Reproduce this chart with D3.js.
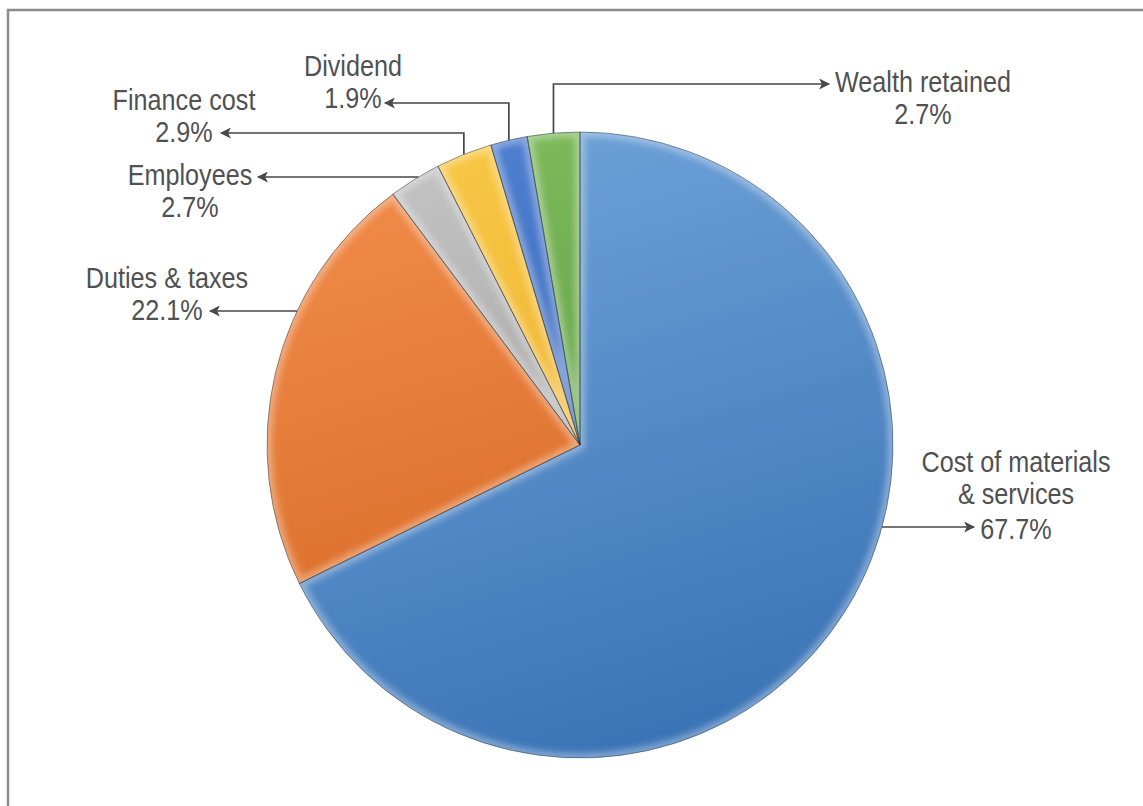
<!DOCTYPE html>
<html><head><meta charset="utf-8">
<script src="https://cdn.jsdelivr.net/npm/d3@7"></script>
<style>html,body{margin:0;padding:0;background:#fff;overflow:hidden}</style>
</head><body>
<svg id="c" width="1143" height="806"></svg>
<script>
// ---- data ----
const categories = ["Cost of materials & services","Duties & taxes","Employees","Finance cost","Dividend","Wealth retained"];
const values = [67.7, 22.1, 2.7, 2.9, 1.9, 2.7];
const labelLines = [["Cost of materials","& services","67.7%"],["Duties & taxes","22.1%"],["Employees","2.7%"],["Finance cost","2.9%"],["Dividend","1.9%"],["Wealth retained","2.7%"]];
const colors = [["#6ea2d8","#3a73b5"],["#f28c4a","#d1621e"],["#c4c4c4","#909090"],["#f8c847","#e5a31b"],["#4f7fd0","#2d5aab"],["#7fbb5d","#4d8d32"]];

const W=1143,H=806, cx=580, cy=445, R=313;
const svg=d3.select("#c");
const defs=svg.append("defs");

// frame
svg.append("rect").attr("x",8).attr("y",10).attr("width",1300).attr("height",1000)
  .attr("fill","none").attr("stroke","#8c8c8c").attr("stroke-width",2.5);

const pie=d3.pie().sort(null).value(d=>d)(values);
const arc=d3.arc().innerRadius(0).outerRadius(R);

defs.append("filter").attr("id","blur").append("feGaussianBlur").attr("stdDeviation",3);
defs.append("marker").attr("id","ah").attr("viewBox","0 0 10 10").attr("refX",9).attr("refY",5)
  .attr("markerWidth",14).attr("markerHeight",11).attr("markerUnits","userSpaceOnUse").attr("orient","auto")
  .append("path").attr("d","M0,0 L10,5 L0,10 L2.5,5 Z").attr("fill","#4a4a4a");

colors.forEach((c,i)=>{
  const g=defs.append("linearGradient").attr("id","g"+i).attr("gradientUnits","userSpaceOnUse")
    .attr("x1",-R*0.35).attr("y1",-R).attr("x2",R*0.25).attr("y2",R);
  g.append("stop").attr("offset","0%").attr("stop-color",c[0]);
  g.append("stop").attr("offset","100%").attr("stop-color",c[1]);
  defs.append("clipPath").attr("id","cp"+i).append("path").attr("d",arc(pie[i]));
});

const pg=svg.append("g").attr("transform",`translate(${cx},${cy})`);
pie.forEach((p,i)=>{
  pg.append("path").attr("d",arc(p)).attr("fill",`url(#g${i})`);
});
// bevel highlight
pie.forEach((p,i)=>{
  pg.append("g").attr("clip-path",`url(#cp${i})`)
    .append("path").attr("d",arc(p))
    .attr("fill","none").attr("stroke","#fff").attr("stroke-opacity",0.35).attr("stroke-width",10).attr("filter","url(#blur)");
});
pie.forEach((p,i)=>{
  pg.append("path").attr("d",arc(p)).attr("fill","none").attr("stroke","rgba(30,40,55,0.45)").attr("stroke-width",1);
});

// ---- labels & leaders ----
const ink="#4f5153";
const font="'Liberation Sans',Arial,sans-serif";
function circY(x){return cy-Math.sqrt(R*R-(x-cx)*(x-cx));}
function circX(y,side){return cx+side*Math.sqrt(R*R-(y-cy)*(y-cy));}
function midX(i){const a=(pie[i].startAngle+pie[i].endAngle)/2;return cx+R*Math.sin(a);}

const labelPos=[[1016,472],[167,288],[190,185],[184,110],[353,76],[923,92]];
const lineH=32;
labelLines.forEach((ls,i)=>{
  const t=svg.append("text").attr("text-anchor","middle").attr("fill",ink)
    .attr("font-family",font).attr("font-size",30)
    .attr("transform",`translate(${labelPos[i][0]},${labelPos[i][1]}) scale(0.84,1)`);
  ls.forEach((s,k)=>t.append("tspan").attr("x",0).attr("y",k*lineH+(i===0&&k===2?3:0)).text(s));
});

const lineAttr=s=>s.attr("fill","none").attr("stroke","#464646").attr("stroke-width",1.7).attr("marker-end","url(#ah)");
// Cost of materials
{const y=527; lineAttr(svg.append("path").attr("d",`M${circX(y,1)},${y} H974`));}
// Duties
{const y=311; lineAttr(svg.append("path").attr("d",`M${circX(y,-1)},${y} H210`));}
// Employees
{const y=177; lineAttr(svg.append("path").attr("d",`M${circX(y,-1)},${y} H258`));}
// Finance cost
{const x=midX(3), y=133; lineAttr(svg.append("path").attr("d",`M${x},${circY(x)} V${y} H221`));}
// Dividend
{const x=midX(4), y=103; lineAttr(svg.append("path").attr("d",`M${x},${circY(x)} V${y} H385`));}
// Wealth retained
{const x=midX(5), y=84; lineAttr(svg.append("path").attr("d",`M${x},${circY(x)} V${y} H829`));}
</script>
</body></html>
